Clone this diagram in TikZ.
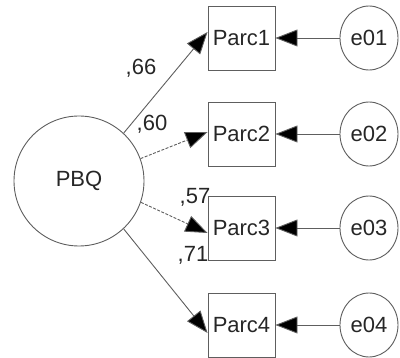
\documentclass[tikz,border=0pt]{standalone}
\usepackage{fontspec}
\setmainfont{Liberation Sans}
\usetikzlibrary{shapes.geometric,arrows.meta,calc}
\definecolor{ln}{HTML}{5E5E5E}
\definecolor{tx}{HTML}{262626}
\tikzset{
  obs/.style={draw=ln,line width=0.9pt,minimum width=67pt,minimum height=64pt,inner sep=0pt,text=tx,font=\fontsize{22}{26}\selectfont},
  err/.style={draw=ln,line width=0.9pt,ellipse,minimum width=58pt,minimum height=64pt,inner sep=0pt,text=tx,font=\fontsize{22}{26}\selectfont},
  lat/.style={draw=ln,line width=0.9pt,circle,minimum size=130pt,inner sep=0pt,text=tx,font=\fontsize{22}{26}\selectfont},
  path/.style={draw=ln,line width=0.9pt,-{Triangle[length=22pt,width=17pt,fill=black]}},
  dpath/.style={path,dash pattern=on 3pt off 1.5pt},
  coef/.style={text=tx,font=\fontsize{22}{26}\selectfont,inner sep=0pt}
}
\begin{document}
\begin{tikzpicture}[x=1pt,y=-1pt]
\useasboundingbox (0,0) rectangle (400,358);
\node[lat] (pbq) at (79,181) {PBQ};
\node[obs] (p1) at (241.5,38) {Parc1};
\node[obs] (p2) at (241.5,134) {Parc2};
\node[obs] (p3) at (241.5,228) {Parc3};
\node[obs] (p4) at (241.5,325) {Parc4};
\node[err] (e1) at (369,38) {e01};
\node[err] (e2) at (369,134) {e02};
\node[err] (e3) at (369,228) {e03};
\node[err] (e4) at (369,325) {e04};
\draw[path] (pbq.47) -- ($(p1.west)+(0,-6)$);
\draw[dpath] (pbq.20) -- ($(p2.west)+(0,-2)$);
\draw[dpath] (pbq.-19) -- ($(p3.west)+(0,5)$);
\draw[path] (pbq.-47) -- ($(p4.west)+(0,8)$);
\foreach \i in {1,2,3,4}{\draw[path] (e\i.west) -- (p\i.east);}
\node[coef] (c1) at (141,68) {,66};
\node[coef] (c2) at (152,124) {,60};
\node[coef] (c3) at (195,197) {,57};
\node[coef] (c4) at (193,255) {,71};
\end{tikzpicture}
\end{document}
